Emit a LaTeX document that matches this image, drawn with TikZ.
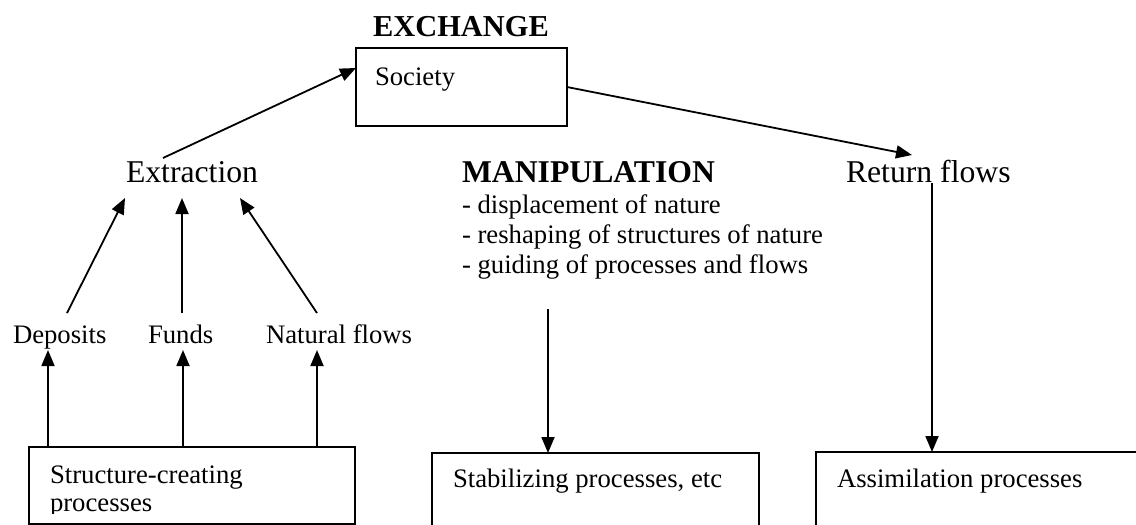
\documentclass[tikz,border=0pt]{standalone}
\usepackage{fontspec}
\setmainfont{Liberation Serif}
\usetikzlibrary{arrows.meta,calc}

\newcommand{\smallsz}{\fontsize{26.7}{30}\selectfont}
\newcommand{\bigsz}{\fontsize{31.7}{36}\selectfont}

\begin{document}
\begin{tikzpicture}[x=1pt,y=-1pt,
  every node/.style={inner sep=0pt,outer sep=0pt},
  lbl/.style={anchor=base west,font=\smallsz},
  biglbl/.style={anchor=base west,font=\bigsz},
  head/.style={anchor=base west,font=\bigsz\bfseries},
  frame/.style={draw,line width=1.8pt,anchor=north west,rectangle},
  link/.style={line width=1.8pt},
  arr/.style={link,-{Triangle[length=16pt,width=13pt]}}]

\clip (0,0) rectangle (1136,525);
\fill[white] (0,0) rectangle (1136,525);

% headings and labels
\node[anchor=base,font=\fontsize{30.4}{34}\selectfont\bfseries] (exch) at (461,36) {EXCHANGE};
\node[biglbl] (ext) at (126,182) {Extraction};
\node[head] (manip) at (462,182) {MANIPULATION};
% multi-line node: its base is the last line
\node[lbl,align=left] (mlist) at (462,273)
  {- displacement of nature\\- reshaping of structures of nature\\- guiding of processes and flows};
\node[biglbl] (ret) at (846,182) {Return flows};
\node[lbl] (dep) at (13,343) {Deposits};
\node[lbl] (fund) at (148,343) {Funds};
\node[lbl] (nat) at (266,343) {Natural flows};

% boxes
\node[frame,minimum width=211pt,minimum height=78pt] (soc) at (356,48) {};
\node[lbl] (soct) at (375,85) {Society};

\node[frame,minimum width=326pt,minimum height=77pt] (struct) at (29,447) {};
\begin{scope}
  \clip (29,447) rectangle (355,513);
  \node[anchor=base west,font=\fontsize{26.7}{28}\selectfont,align=left]
    (structt) at (50,511) {Structure-creating\\processes};
\end{scope}

\node[frame,minimum width=327pt,minimum height=120pt] (stab) at (432,453) {};
\node[lbl] (stabt) at (453,487) {Stabilizing processes, etc};

\node[frame,minimum width=400pt,minimum height=120pt] (assim) at (816,452) {};
\node[lbl] (assimt) at (837,487) {Assimilation processes};

% exchange with society
\draw[arr] ($(ext.base west)+(37,-24)$) -- ($(soc.north west)+(0,20)$);
\draw[arr] (soc.east) -- ($(ret.base west)+(66,-27)$);

% resources feeding extraction
\draw[arr] ($(dep.base west)+(54,-30)$) -- ($(ext.base west)+(-1,16)$);
\draw[arr] ($(fund.base west)+(34,-30)$) -- ($(ext.base west)+(56,16)$);
\draw[arr] ($(nat.base west)+(51,-30)$) -- ($(ext.base west)+(114,16)$);

% structure-creating processes feeding the resources
\draw[arr] ($(struct.north west)+(19,0)$) -- ($(dep.base west)+(35,7)$);
\draw[arr] ($(struct.north west)+(154,0)$) -- ($(fund.base west)+(35,7)$);
\draw[arr] ($(struct.north west)+(288,0)$) -- ($(nat.base west)+(51,7)$);

% manipulation and return flows down to the processes
\draw[arr] ($(mlist.base west)+(86,36)$) -- ($(stab.north west)+(116,0)$);
\draw[arr] ($(ret.base west)+(86,1)$) -- ($(assim.north west)+(116,0)$);
\end{tikzpicture}
\end{document}
